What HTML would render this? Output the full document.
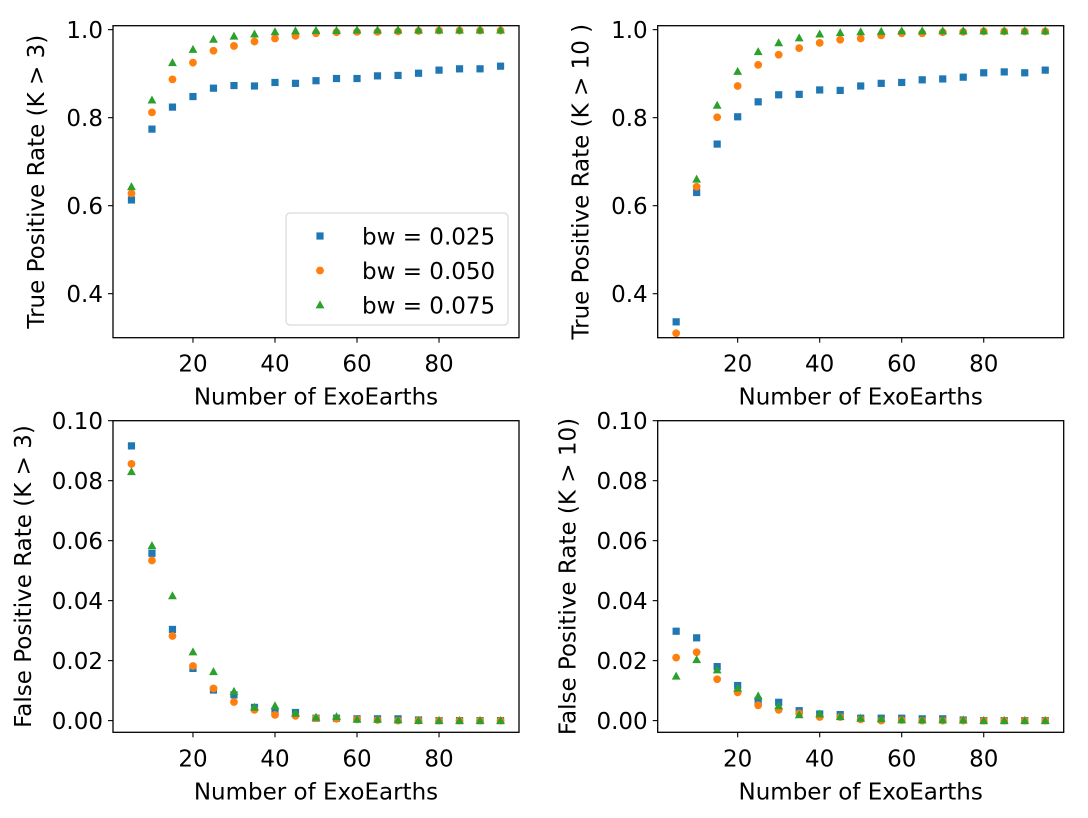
<!DOCTYPE html>
<html><head><meta charset="utf-8"><style>
html,body{margin:0;padding:0;background:#fff;}
svg{display:block;font-family:"DejaVu Sans","Liberation Sans",sans-serif;}
</style></head><body>
<svg id="chart" width="1088" height="818" viewBox="0 0 1088 818" xmlns="http://www.w3.org/2000/svg"></svg>
<script>
const xs = [5,10,15,20,25,30,35,40,45,50,55,60,65,70,75,80,85,90,95];
const xTicks = [20,40,60,80];
const tprTicks = [0.4,0.6,0.8,1.0];
const fprTicks = [0.00,0.02,0.04,0.06,0.08,0.10];
const seriesNames = ["bw = 0.025","bw = 0.050","bw = 0.075"];

const tpr3_bw025 = [0.613,0.774,0.824,0.848,0.867,0.873,0.872,0.880,0.878,0.884,0.889,0.889,0.895,0.896,0.901,0.908,0.911,0.911,0.917];
const tpr3_bw050 = [0.628,0.812,0.887,0.925,0.952,0.963,0.973,0.980,0.986,0.992,0.994,0.995,0.995,0.996,0.997,0.998,0.998,0.998,0.998];
const tpr3_bw075 = [0.643,0.840,0.925,0.955,0.978,0.985,0.990,0.995,0.997,0.998,0.998,0.999,0.999,0.999,0.999,0.999,0.999,0.999,0.999];

const tpr10_bw025 = [0.336,0.630,0.740,0.802,0.836,0.852,0.853,0.863,0.862,0.872,0.878,0.880,0.886,0.888,0.892,0.902,0.904,0.902,0.908];
const tpr10_bw050 = [0.310,0.643,0.801,0.872,0.920,0.943,0.958,0.970,0.977,0.980,0.987,0.992,0.992,0.994,0.995,0.996,0.996,0.996,0.996];
const tpr10_bw075 = [0.290,0.660,0.828,0.905,0.950,0.970,0.981,0.990,0.993,0.995,0.996,0.997,0.997,0.997,0.997,0.997,0.997,0.997,0.997];

const fpr3_bw025 = [0.0916,0.0558,0.0304,0.0174,0.0102,0.0086,0.0044,0.0030,0.0027,0.0008,0.0008,0.0006,0.0006,0.0006,0.0002,0,0,0,0];
const fpr3_bw050 = [0.0856,0.0534,0.0282,0.0182,0.0107,0.0062,0.0036,0.0019,0.0016,0.0008,0.0006,0.0004,0.0002,0,0,0,0,0,0];
const fpr3_bw075 = [0.0830,0.0583,0.0416,0.0229,0.0163,0.0097,0.0044,0.0049,0.0024,0.0011,0.0013,0.0004,0.0004,0.0002,0,0,0,0,0];

const fpr10_bw025 = [0.0298,0.0276,0.0180,0.0117,0.0067,0.0061,0.0033,0.0022,0.0020,0.0008,0.0008,0.0008,0.0006,0.0006,0.0002,0,0,0,0];
const fpr10_bw050 = [0.0210,0.0228,0.0138,0.0094,0.0051,0.0036,0.0024,0.0012,0.0012,0.0004,0,0.0002,0,0,0,0,0,0,0];
const fpr10_bw075 = [0.0148,0.0203,0.0169,0.0108,0.0082,0.0049,0.0019,0.0022,0.0013,0.0008,0.0006,0.0002,0.0002,0.0002,0.0002,0,0,0,0];

const colors = ["#1f77b4","#ff7f0e","#2ca02c"];
const NS = "http://www.w3.org/2000/svg";
const svg = document.getElementById("chart");
function mk(tag, attrs, parent){const e=document.createElementNS(NS,tag);for(const k in attrs)e.setAttribute(k,attrs[k]);(parent||svg).appendChild(e);return e;}

function marker(g, kind, cx, cy, color){
  let e;
  if(kind===0){e=mk("rect",{x:cx-3.6,y:cy-3.6,width:7.2,height:7.2,fill:color},g);}
  else if(kind===1){e=mk("circle",{cx:cx,cy:cy,r:3.9,fill:color},g);}
  else {e=mk("polygon",{points:`${cx},${cy-4.6} ${cx-4.4},${cy+3.4} ${cx+4.4},${cy+3.4}`,fill:color},g);}
  return e;
}

const FS = 23;

function panel(name, left, top, bottom, ymin, ymax, yTicks, yFmt, ylabel, ylabelOff, series){
  const width = 406, xmin = 0.5, xmax = 99.5;
  const X = v => left + (v - xmin) / (xmax - xmin) * width;
  const Y = v => bottom - (v - ymin) / (ymax - ymin) * (bottom - top);
  const g = mk("g",{});
  
  
  const clipId = name + "-clip";
  const cp = mk("clipPath",{id:clipId},g);
  mk("rect",{x:left,y:top,width:width,height:bottom-top},cp);
  series.forEach((vals, si) => {
    const sg = mk("g",{"clip-path":`url(#${clipId})`},g);
    
    
    vals.forEach((v, i) => {
      const m = marker(sg, si, X(xs[i]), Y(v), colors[si]);
      
      
    });
  });
  const frame = mk("rect",{x:left,y:top,width:width,height:bottom-top,fill:"none",stroke:"#000","stroke-width":1.3},g);
  
  
  xTicks.forEach(t => {
    const x = X(t);
    mk("line",{x1:x,x2:x,y1:bottom,y2:bottom+5,stroke:"#000","stroke-width":1.1},g);
    const tl = mk("text",{x:x,y:bottom+34,"text-anchor":"middle","font-size":FS,fill:"#000"},g);
    tl.textContent = t;
    
    
  });
  yTicks.forEach(t => {
    const y = Y(t);
    mk("line",{x1:left-5,x2:left,y1:y,y2:y,stroke:"#000","stroke-width":1.1},g);
    const tl = mk("text",{x:left-10,y:y+8.3,"text-anchor":"end","font-size":FS,fill:"#000"},g);
    tl.textContent = t.toFixed(yFmt);
    
    
  });
  const xl = mk("text",{x:left+width/2,y:bottom+67,"text-anchor":"middle","font-size":FS,fill:"#000"},g);
  xl.textContent = "Number of ExoEarths";
  
  
  const cy = (top+bottom)/2;
  const lx = left - ylabelOff;
  const yl = mk("text",{x:lx,y:cy,"text-anchor":"middle","font-size":FS,fill:"#000",transform:`rotate(-90 ${lx} ${cy})`,"dominant-baseline":"central"},g);
  yl.textContent = ylabel;
  
  
}

panel("tpr-k3-panel",113,25.7,337.7,0.3,1.009,tprTicks,1,"True Positive Rate (K > 3)",76,[tpr3_bw025,tpr3_bw050,tpr3_bw075]);
panel("tpr-k10-panel",657.7,25.7,337.7,0.3,1.009,tprTicks,1,"True Positive Rate (K > 10 )",76,[tpr10_bw025,tpr10_bw050,tpr10_bw075]);
panel("fpr-k3-panel",113,420.7,732.3,-0.0039,0.1,fprTicks,2,"False Positive Rate (K > 3)",89,[fpr3_bw025,fpr3_bw050,fpr3_bw075]);
panel("fpr-k10-panel",657.7,420.7,732.3,-0.0039,0.1,fprTicks,2,"False Positive Rate (K > 10)",89,[fpr10_bw025,fpr10_bw050,fpr10_bw075]);

// legend
const lg = mk("g",{});


mk("rect",{x:286,y:213,width:222,height:112,rx:4,fill:"#fff","fill-opacity":0.8,stroke:"#d9d9d9","stroke-width":1.2},lg);
seriesNames.forEach((n,i)=>{
  const y = 236 + i*34.5;
  const eg = mk("g",{},lg);
  
  
  marker(eg, i, 320, y, colors[i]);
  const t = mk("text",{x:362,y:y+8.5,"font-size":FS,fill:"#000"},eg);
  t.textContent = n;
});
</script>
</body></html>
